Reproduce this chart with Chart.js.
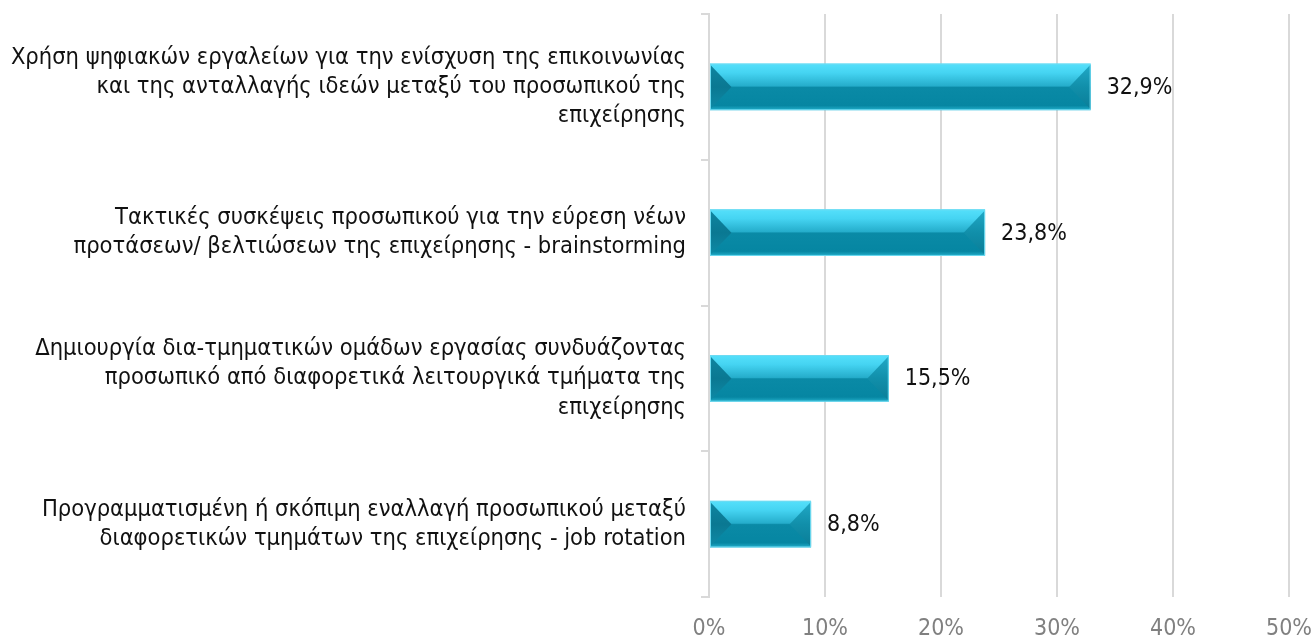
<!DOCTYPE html>
<html>
<head>
<meta charset="utf-8">
<script src="https://cdn.jsdelivr.net/npm/chart.js@4/dist/chart.umd.min.js"></script>
<style>
  html, body { margin: 0; padding: 0; background: #fff; }
  #wrap { width: 1312px; height: 639px; position: relative; }
</style>
</head>
<body>
<div id="wrap"><canvas id="chart"></canvas></div>
<script>
// data
const categories = [
  ['Χρήση ψηφιακών εργαλείων για την ενίσχυση της επικοινωνίας', 'και της ανταλλαγής ιδεών μεταξύ του προσωπικού της', 'επιχείρησης'],
  ['Τακτικές συσκέψεις προσωπικού για την εύρεση νέων', 'προτάσεων/ βελτιώσεων της επιχείρησης - brainstorming'],
  ['Δημιουργία δια-τμηματικών ομάδων εργασίας συνδυάζοντας', 'προσωπικό από διαφορετικά λειτουργικά τμήματα της', 'επιχείρησης'],
  ['Προγραμματισμένη ή σκόπιμη εναλλαγή προσωπικού μεταξύ', 'διαφορετικών τμημάτων της επιχείρησης - job rotation']
];
const values = [32.9, 23.8, 15.5, 8.8];
const xTicks = [0, 10, 20, 30, 40, 50];

const FONT = '"DejaVu Sans Condensed", "Liberation Sans Narrow", sans-serif';
const fmt = v => v.toFixed(1).replace('.', ',') + '%';

// bevelled bars + value labels
const bevelBars = {
  id: 'bevelBars',
  afterDatasetsDraw(chart) {
    const ctx = chart.ctx;
    const meta = chart.getDatasetMeta(0);
    meta.data.forEach((el, i) => {
      const p = el.getProps(['x', 'y', 'base', 'height'], true);
      const L = Math.min(p.base, p.x), R = Math.max(p.base, p.x);
      const T = p.y - p.height / 2, B = p.y + p.height / 2, M = p.y;
      const h = B - T;
      const b = Math.min(h * 0.46, (R - L) / 2);
      ctx.save();
      // face
      const g = ctx.createLinearGradient(0, T, 0, B);
      g.addColorStop(0, '#55e0fb');
      g.addColorStop(0.2, '#45d4f2');
      g.addColorStop(0.48, '#25adcb');
      g.addColorStop(0.51, '#0a8aa6');
      g.addColorStop(0.9, '#0686a2');
      g.addColorStop(1, '#22aeca');
      ctx.fillStyle = g;
      ctx.fillRect(L, T, R - L, h);
      // left bevel
      const gl = ctx.createLinearGradient(0, T, 0, B);
      gl.addColorStop(0, '#0f86a1');
      gl.addColorStop(0.5, '#0a7892');
      gl.addColorStop(1, '#0e8ba7');
      ctx.fillStyle = gl;
      ctx.beginPath();
      ctx.moveTo(L, T + 1); ctx.lineTo(L + b, M); ctx.lineTo(L, B - 1); ctx.closePath();
      ctx.fill();
      // right bevel
      const gr = ctx.createLinearGradient(0, T, 0, B);
      gr.addColorStop(0, '#22aac8');
      gr.addColorStop(0.5, '#118faa');
      gr.addColorStop(1, '#0a7d97');
      ctx.fillStyle = gr;
      ctx.beginPath();
      ctx.moveTo(R, T + 1); ctx.lineTo(R - b, M); ctx.lineTo(R, B - 1); ctx.closePath();
      ctx.fill();
      // outline
      ctx.strokeStyle = '#6fdcf2';
      ctx.lineWidth = 1;
      ctx.strokeRect(L + 0.5, T + 0.5, R - L - 1, h - 1);
      // value label
      ctx.fillStyle = '#111';
      ctx.font = '23px ' + FONT;
      ctx.textAlign = 'left';
      ctx.textBaseline = 'middle';
      ctx.fillText(fmt(values[i]), R + 16, M + 1);
      ctx.restore();
    });
  }
};

new Chart(document.getElementById('chart'), {
  type: 'bar',
  data: {
    labels: categories,
    datasets: [{
      data: values,
      backgroundColor: 'rgba(0,0,0,0)',
      borderWidth: 0,
      categoryPercentage: 1,
      barPercentage: 0.32
    }]
  },
  options: {
    indexAxis: 'y',
    responsive: true,
    maintainAspectRatio: false,
    animation: false,
    layout: { padding: { top: 14, right: 23, bottom: 0, left: 0 } },
    plugins: { legend: { display: false }, tooltip: { enabled: false } },
    scales: {
      x: {
        min: 0, max: 50,
        afterBuildTicks: s => { s.ticks = xTicks.map(v => ({ value: v })); },
        afterFit: s => { s.height = 42; s.paddingLeft = 0; s.paddingRight = 0; },
        border: { display: false },
        grid: { color: '#d9d9d9', lineWidth: 2, drawTicks: false },
        ticks: {
          color: '#808080',
          padding: 18,
          font: { family: FONT, size: 23 },
          callback: v => v + '%'
        }
      },
      y: {
        afterFit: s => { s.width = 709; s.paddingTop = 0; s.paddingBottom = 0; },
        border: { display: true, color: '#d9d9d9', width: 2 },
        grid: { drawOnChartArea: false, drawTicks: true, tickLength: 8, color: '#d9d9d9', lineWidth: 2, offset: true },
        ticks: {
          color: '#111',
          padding: 15,
          font: { family: FONT, size: 23.5, lineHeight: 1.24 }
        }
      }
    }
  },
  plugins: [bevelBars]
});
</script>
</body>
</html>
